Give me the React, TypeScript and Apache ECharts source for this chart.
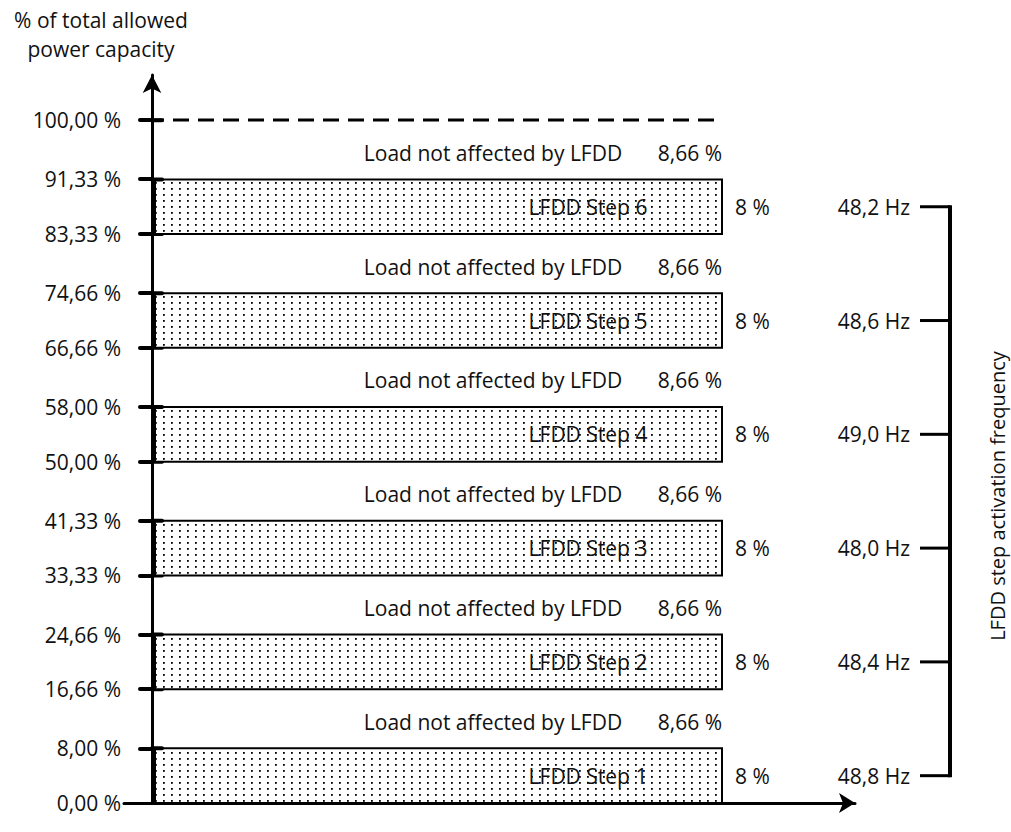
import React, { useEffect, useRef } from 'react';
import * as echarts from 'echarts';

// ---- data ----
const yTickValues = [0, 8, 16.66, 24.66, 33.33, 41.33, 50, 58, 66.66, 74.66, 83.33, 91.33, 100];
const yTickLabels = ['0,00 %', '8,00 %', '16,66 %', '24,66 %', '33,33 %', '41,33 %', '50,00 %', '58,00 %', '66,66 %', '74,66 %', '83,33 %', '91,33 %', '100,00 %'];
const stepNames = ['LFDD Step 1', 'LFDD Step 2', 'LFDD Step 3', 'LFDD Step 4', 'LFDD Step 5', 'LFDD Step 6'];
const stepShares = [8, 8, 8, 8, 8, 8];
const stepShareLabels = ['8 %', '8 %', '8 %', '8 %', '8 %', '8 %'];
const freeShares = [8.66, 8.66, 8.66, 8.66, 8.66, 8.66];
const freeShareLabels = ['8,66 %', '8,66 %', '8,66 %', '8,66 %', '8,66 %', '8,66 %'];
const freeLabel = 'Load not affected by LFDD';
const stepFrequencies = ['48,8 Hz', '48,4 Hz', '48,0 Hz', '49,0 Hz', '48,6 Hz', '48,2 Hz'];
const fullCapacity = 100;
const yTitle = '% of total allowed\npower capacity';
const rightTitle = 'LFDD step activation frequency';

// ---- layout (x axis units = px from the y axis) ----
const X_MIN = -28;
const X_MAX = 703;
const BAR_START = 3;
const BAR_END = 570;
const STEP_LABEL_X = 436;
const FREE_LABEL_X = 341;
const FREQ_LABEL_X = 758;
const FREQ_TICK_X = 768;
const BRACKET_X = 798;
const DASH_START = -4;
const INNER_TICK = 10;
const Y_MAX = 106.59;

const FONT = '21px "Open Sans", sans-serif';
const TEXT = '#111';

const dotSvg =
  '<svg xmlns="http://www.w3.org/2000/svg" width="8" height="6">' +
  '<rect width="8" height="6" fill="#ffffff"/>' +
  '<rect x="3" y="2" width="1.8" height="1.8" fill="#000000"/></svg>';
const dotUrl = 'data:image/svg+xml;charset=utf-8,' + encodeURIComponent(dotSvg);

export default function App() {
  const ref = useRef<HTMLDivElement>(null);
  useEffect(() => {
    if (!ref.current) return;
    const chart = echarts.init(ref.current, null, { renderer: 'svg' });

    const bands: number[][] = [];
    let acc = 0;
    for (let i = 0; i < stepShares.length; i++) {
      const bottom = acc;
      const top = bottom + stepShares[i];
      const gapTop = top + freeShares[i];
      bands.push([i, bottom, top, gapTop]);
      acc = gapTop;
    }
    const firstMid = (bands[0][1] + bands[0][2]) / 2;
    const last = bands[bands.length - 1];
    const lastMid = (last[1] + last[2]) / 2;

    const option: any = {
      animation: false,
      grid: { left: 124, right: 156, top: 75, bottom: 29, containLabel: false },
      xAxis: {
        type: 'value',
        min: X_MIN,
        max: X_MAX,
        axisLine: {
          show: true,
          onZero: false,
          symbol: ['none', 'arrow'],
          symbolSize: [15, 16],
          lineStyle: { color: '#000', width: 3 },
        },
        axisTick: { show: false },
        axisLabel: { show: false },
        splitLine: { show: false },
      },
      yAxis: {
        type: 'value',
        min: 0,
        max: Y_MAX,
        position: 'left',
        offset: X_MIN,
        axisLine: {
          show: true,
          onZero: false,
          symbol: ['none', 'arrow'],
          symbolSize: [14, 18],
          lineStyle: { color: '#000', width: 3 },
        },
        axisTick: {
          show: true,
          inside: false,
          length: 12,
          customValues: yTickValues.slice(1),
          lineStyle: { color: '#000', width: 4, cap: 'round' },
        },
        axisLabel: {
          show: true,
          margin: 31,
          customValues: yTickValues,
          color: TEXT,
          fontSize: 21,
          fontFamily: '"Open Sans", sans-serif',
          formatter: (v: number) => {
            let best = 0;
            for (let k = 0; k < yTickValues.length; k++) {
              if (Math.abs(yTickValues[k] - v) < Math.abs(yTickValues[best] - v)) best = k;
            }
            return yTickLabels[best];
          },
        },
        splitLine: { show: false },
      },
      series: [
        {
          type: 'line',
          data: [[DASH_START, fullCapacity], [BAR_END, fullCapacity]],
          symbol: 'none',
          lineStyle: { color: '#000', width: 3, type: [16, 9] },
          z: 3,
        },
        {
          type: 'custom',
          data: bands,
          encode: { x: 0, y: 1 },
          z: 2,
          renderItem: (params: any, api: any) => {
            const i = api.value(0);
            const bottom = api.value(1);
            const top = api.value(2);
            const gapTop = api.value(3);
            const p0 = api.coord([BAR_START, top]);
            const p1 = api.coord([BAR_END, bottom]);
            const mid = api.coord([0, (bottom + top) / 2])[1];
            const gapMid = api.coord([0, (top + gapTop) / 2])[1];
            const xs = api.coord([STEP_LABEL_X, 0])[0];
            const xf = api.coord([FREE_LABEL_X, 0])[0];
            const xfl = api.coord([FREQ_LABEL_X, 0])[0];
            const xft = api.coord([FREQ_TICK_X, 0])[0];
            const xb = api.coord([BRACKET_X, 0])[0];
            const textStyle = (text: string, x: number, y: number, align: string) => ({
              text, x, y, fill: TEXT, font: FONT, align, verticalAlign: 'middle',
            });
            const innerTick = (v: number) => {
              const a = api.coord([0, v]);
              const b = api.coord([INNER_TICK, v]);
              return {
                type: 'line',
                shape: { x1: a[0], y1: a[1], x2: b[0], y2: b[1] },
                style: { stroke: '#000', lineWidth: 4, lineCap: 'round' },
              };
            };
            return {
              type: 'group',
              children: [
                {
                  type: 'rect',
                  shape: { x: p0[0], y: p0[1], width: p1[0] - p0[0], height: p1[1] - p0[1] },
                  style: {
                    fill: { image: dotUrl, repeat: 'repeat', imageWidth: 8, imageHeight: 6 },
                    stroke: '#000',
                    lineWidth: 2,
                  },
                },
                innerTick(top),
                innerTick(gapTop),
                { type: 'text', style: textStyle(stepNames[i], xs, mid, 'center') },
                { type: 'text', style: textStyle(stepShareLabels[i], p1[0] + 13, mid, 'left') },
                { type: 'text', style: textStyle(freeLabel, xf, gapMid + 3, 'center') },
                { type: 'text', style: textStyle(freeShareLabels[i], p1[0], gapMid + 3, 'right') },
                { type: 'text', style: textStyle(stepFrequencies[i], xfl, mid, 'right') },
                {
                  type: 'line',
                  shape: { x1: xft, y1: mid, x2: xb, y2: mid },
                  style: { stroke: '#000', lineWidth: 3 },
                },
              ],
            };
          },
        },
        {
          type: 'custom',
          data: [[firstMid, lastMid]],
          encode: { y: 0 },
          z: 2,
          renderItem: (params: any, api: any) => {
            const a = api.coord([BRACKET_X, api.value(0)]);
            const b = api.coord([BRACKET_X, api.value(1)]);
            return {
              type: 'line',
              shape: { x1: a[0], y1: a[1] + 1.5, x2: b[0], y2: b[1] - 1.5 },
              style: { stroke: '#000', lineWidth: 4 },
            };
          },
        },
      ],
      graphic: [
        {
          type: 'text',
          x: 101,
          y: 34,
          style: { text: yTitle, fill: TEXT, font: FONT, align: 'center', verticalAlign: 'middle', lineHeight: 29 },
        },
        {
          type: 'text',
          x: 997,
          y: 496,
          rotation: Math.PI / 2,
          style: { text: rightTitle, fill: TEXT, font: '20px "Open Sans", sans-serif', align: 'center', verticalAlign: 'middle' },
        },
      ],
    };
    chart.setOption(option);
    return () => chart.dispose();
  }, []);
  return <div ref={ref} style={{ position: 'absolute', left: 0, top: 0, width: 1011, height: 832 }} />;
}
